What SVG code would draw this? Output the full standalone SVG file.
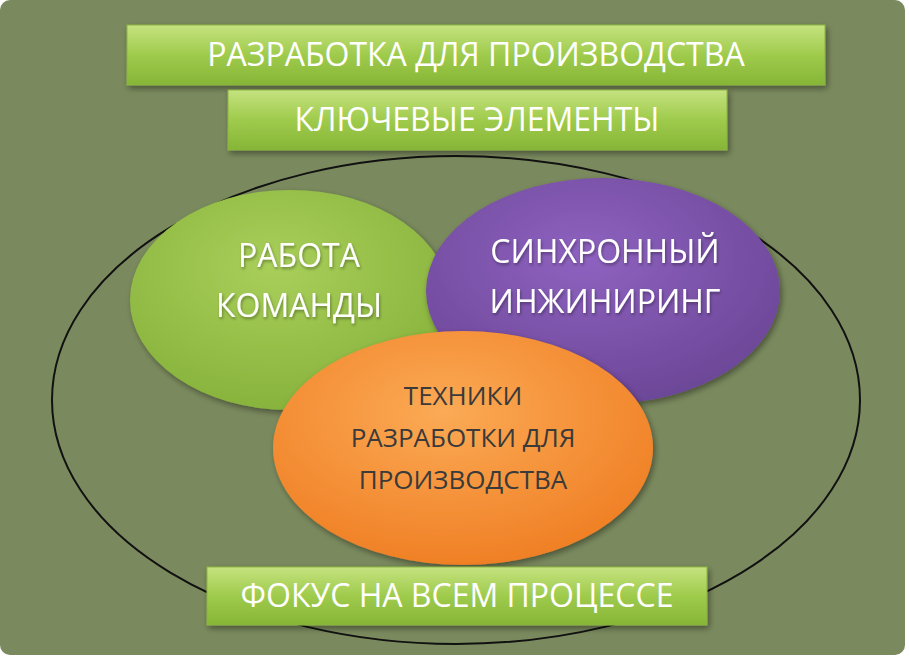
<svg xmlns="http://www.w3.org/2000/svg" width="909" height="659" viewBox="0 0 909 659">
<defs>
<linearGradient id="bar" x1="0" y1="0" x2="0" y2="1"><stop offset="0" stop-color="#c5e27f"/><stop offset="0.5" stop-color="#9fcb4c"/><stop offset="1" stop-color="#86b536"/></linearGradient>
<radialGradient id="gr" cx="0.45" cy="0.35" r="0.7"><stop offset="0" stop-color="#a9cf5a"/><stop offset="1" stop-color="#85b13a"/></radialGradient>
<radialGradient id="pu" cx="0.45" cy="0.35" r="0.7"><stop offset="0" stop-color="#8e62c0"/><stop offset="1" stop-color="#6a4595"/></radialGradient>
<radialGradient id="or" cx="0.45" cy="0.35" r="0.7"><stop offset="0" stop-color="#fbaa55"/><stop offset="1" stop-color="#ef7d22"/></radialGradient>
<filter id="sh" x="-10%" y="-10%" width="130%" height="140%"><feDropShadow dx="2" dy="3" stdDeviation="3" flood-color="#000" flood-opacity="0.4"/></filter>
<filter id="ts" x="-10%" y="-20%" width="120%" height="150%"><feDropShadow dx="1" dy="2" stdDeviation="1.5" flood-color="#000" flood-opacity="0.35"/></filter>
</defs>
<style>
.bar{fill:url(#bar);stroke:#8bb545;stroke-width:1;filter:url(#sh)}
.t{font-family:"Open Sans","Liberation Sans",sans-serif;text-anchor:middle;fill:#fff}
.bt{font-size:32px;fill:#fff}
.et{font-size:32px;filter:url(#ts)}
.ot{font-size:26px;fill:#3a3a3a}
</style>
<rect x="0" y="0" width="909" height="659" fill="#fff"/>
<rect x="0" y="0" width="905" height="655" rx="10" fill="#7b8a5e"/>
<g id="outer"><ellipse cx="456" cy="400" rx="404" ry="244" fill="none" stroke="#111" stroke-width="2"/></g>
<g id="title"><rect class="bar" x="127" y="25" width="698" height="60"/><text class="t bt" x="476" y="66">РАЗРАБОТКА ДЛЯ ПРОИЗВОДСТВА</text></g>
<g id="subtitle"><rect class="bar" x="228" y="90" width="499" height="60"/><text class="t bt" x="477" y="131">КЛЮЧЕВЫЕ ЭЛЕМЕНТЫ</text></g>
<g id="team"><ellipse cx="290" cy="300" rx="160" ry="110" fill="url(#gr)" filter="url(#sh)"/><text class="t et" x="299" y="267">РАБОТА</text><text class="t et" x="299" y="317">КОМАНДЫ</text></g>
<g id="sync"><ellipse cx="603" cy="291" rx="177" ry="113" fill="url(#pu)" filter="url(#sh)"/><text class="t et" x="605" y="263">СИНХРОННЫЙ</text><text class="t et" x="605" y="313">ИНЖИНИРИНГ</text></g>
<g id="tech"><ellipse cx="463" cy="448" rx="190" ry="117" fill="url(#or)" filter="url(#sh)"/><text class="t ot" x="463" y="405">ТЕХНИКИ</text><text class="t ot" x="463" y="447">РАЗРАБОТКИ ДЛЯ</text><text class="t ot" x="463" y="489">ПРОИЗВОДСТВА</text></g>
<g id="focus"><rect class="bar" x="207" y="567" width="500" height="58"/><text class="t bt" x="457" y="607">ФОКУС НА ВСЕМ ПРОЦЕССЕ</text></g>
<g id="connectors"/>
</svg>
